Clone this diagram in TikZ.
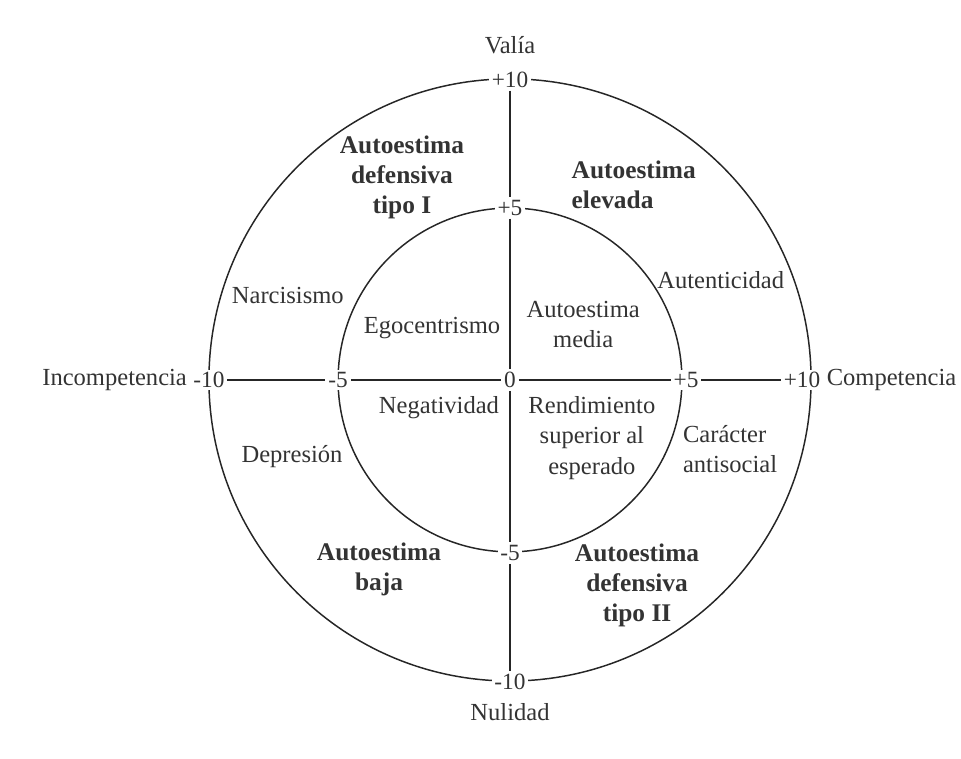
\documentclass[tikz,border=0pt]{standalone}
\usepackage{fontspec}
\setmainfont{Liberation Serif}
\usetikzlibrary{positioning}
\begin{document}
\begin{tikzpicture}[x=0.5cm,y=0.5cm,
    every node/.style={text=black!80,font=\fontsize{11.6}{14.2}\selectfont},
    eje/.style={black!85,line width=0.7pt},
    tick/.style={fill=white,inner sep=1.2pt,font=\fontsize{11}{13}\selectfont},
    zona/.style={font=\fontsize{12}{14.2}\selectfont\bfseries,align=center}]
    \useasboundingbox (-16.94,-12.56) rectangle (14.98,12.62);
    \draw[eje] (0,0) circle (10);
    \draw[eje] (0,0) circle (5.71);
    % marcas de los ejes
    \node[tick] (t10) at (0,9.97) {+10};
    \node[tick] (t5) at (0,5.71) {+5};
    \node[tick] (o) at (0,0) {0};
    \node[tick] (b5) at (0,-5.75) {-5};
    \node[tick] (b10) at (0,-10.03) {-10};
    \node[tick] (l10) at (-10,0) {-10};
    \node[tick] (l5) at (-5.71,0) {-5};
    \node[tick] (r5) at (5.85,0) {+5};
    \node[tick] (r10) at (9.7,0) {+10};
    \foreach \a/\b in {t10/t5,t5/o,o/b5,b5/b10,l10/l5,l5/o,o/r5,r5/r10}
    {
        \draw[eje] (\a)--(\b);
    }
    \node (val) at (0,11.13) {Valía};
    \node (nul) at (0,-11.03) {Nulidad};
    \node[left=0pt of l10,inner sep=1.5pt] (inc) {Incompetencia};
    \node[right=0pt of r10,inner sep=1.5pt] (com) {Competencia};
    % zonas
    \node[zona] (def1) at (-3.59,6.74) {Autoestima\\defensiva\\tipo I};
    \node[zona,align=left,anchor=west] (elev) at (1.8,6.48) {Autoestima\\elevada};
    \node[zona] (baja) at (-4.35,-6.28) {Autoestima\\baja};
    \node[zona] (def2) at (4.22,-6.81) {Autoestima\\defensiva\\tipo II};
    \node (nar) at (-7.38,2.79) {Narcisismo};
    \node (ego) at (-2.59,1.73) {Egocentrismo};
    \node[align=center] (med) at (2.43,1.83) {Autoestima\\media};
    \node (aut) at (7.0,3.32) {Autenticidad};
    \node (neg) at (-2.36,-0.93) {Negatividad};
    \node[align=center] (ren) at (2.72,-1.93) {Rendimiento\\superior al\\esperado};
    \node[align=left,anchor=west] (car) at (5.5,-2.29) {Carácter\\antisocial};
    \node (dep) at (-7.24,-2.56) {Depresión};
\end{tikzpicture}
\end{document}
